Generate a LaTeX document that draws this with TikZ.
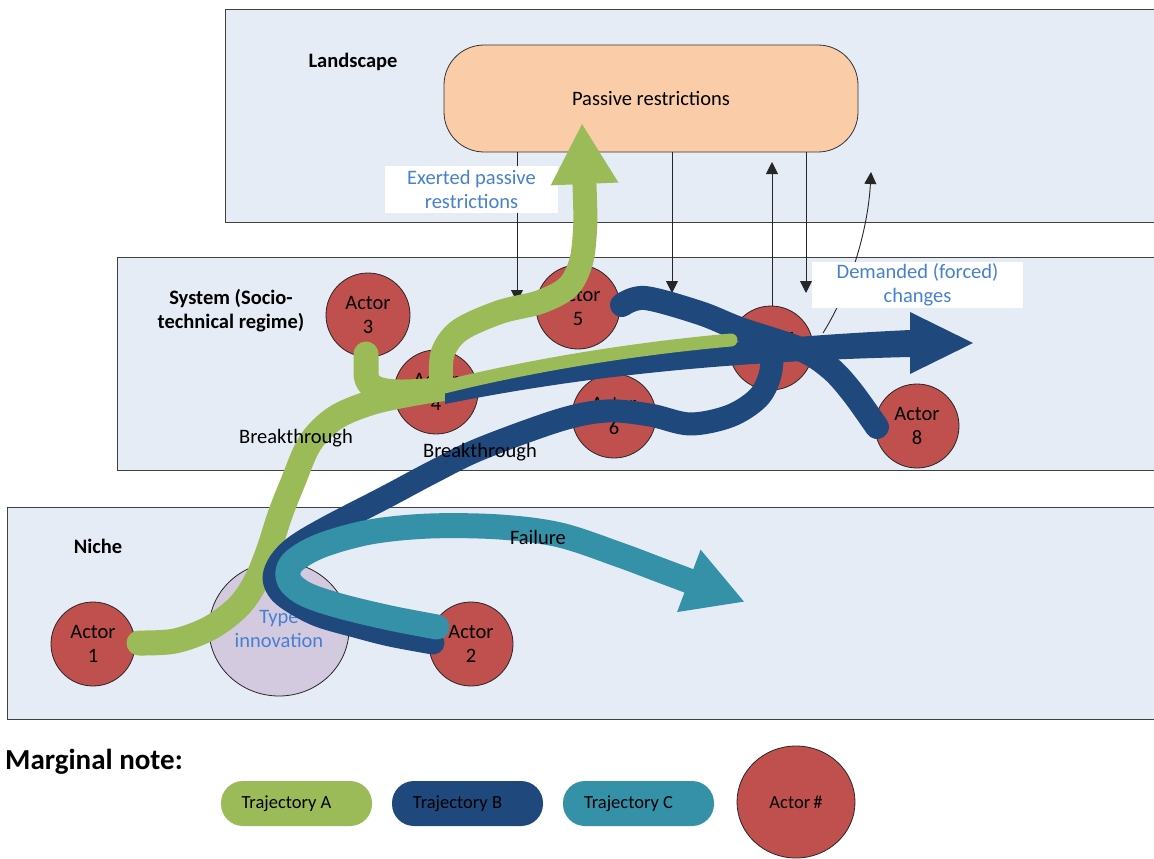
\documentclass[tikz,border=0pt]{standalone}
\usepackage{fontspec}
\setmainfont{Carlito}
\usetikzlibrary{arrows.meta,shapes.geometric}
\definecolor{layerfill}{RGB}{230,236,246}
\definecolor{actorred}{RGB}{192,80,77}
\definecolor{peach}{RGB}{250,204,168}
\definecolor{lav}{RGB}{211,202,223}
\definecolor{trA}{RGB}{155,187,89}
\definecolor{trB}{RGB}{31,73,125}
\definecolor{trC}{RGB}{53,145,168}
\definecolor{bluetext}{RGB}{70,128,210}
\newcommand\fszA{\fontsize{20.5}{24}\selectfont}
\newcommand\fszL{\fontsize{18.5}{22}\selectfont}
\newcommand\fszM{\fontsize{29}{34}\selectfont}
\begin{document}
\begin{tikzpicture}[x=1pt,y=-1pt,
  layerbox/.style={draw=black!75, line width=1.2pt, fill=layerfill, anchor=north west, inner sep=0pt},
  layerlbl/.style={font=\fszA\bfseries, align=center, inner sep=0pt},
  actor/.style={circle, draw=black!85, line width=0.8pt, fill=actorred, minimum size=84pt, inner sep=0pt, align=center, font=\fszA},
  thinarr/.style={draw=black!85, line width=0.9pt, -{Triangle[length=12pt,width=12pt]}},
  lblbox/.style={fill=white, text=bluetext, align=center, font=\fszA, inner sep=0pt},
  trj/.style={line width=#1, line cap=round, line join=round},
  plain/.style={font=\fszA, inner sep=0pt},
  legbox/.style={rounded corners=22pt, minimum width=151pt, minimum height=45pt, inner sep=0pt, font=\fszL}]
\useasboundingbox (0,0) rectangle (1154,859);
% layers
\begin{scope}
\clip (0,0) rectangle (1154,859);
\node[layerbox, minimum width=950pt, minimum height=213pt] (land) at (225,9) {};
\node[layerbox, minimum width=1060pt, minimum height=213pt] (sys) at (117,257) {};
\node[layerbox, minimum width=1170pt, minimum height=212pt] (niche) at (7,507) {};
\end{scope}
\node[layerlbl] (landlbl) at (353,62) {Landscape};
\node[layerlbl] (syslbl) at (231,311) {System (Socio-\\technical regime)};
\node[layerlbl] (nichelbl) at (98,546) {Niche};
% passive restrictions
\node[draw=black!80, line width=0.8pt, fill=peach, rounded corners=40pt, minimum width=414pt, minimum height=107pt, font=\fszA] (pr) at (651,98.5) {Passive restrictions};
% actors
\node[actor] (a1) at (93,644) {Actor\\1};
\node[actor] (a2) at (471,644) {Actor\\2};
\node[actor] (a3) at (368,315) {Actor\\3};
\node[actor] (a4) at (436,392) {Actor\\4};
\node[actor] (a5) at (578,307) {Actor\\5};
\node[actor] (a6) at (614,416) {Actor\\6};
\node[actor] (a7) at (771,348) {Actor\\7};
\node[actor] (a8) at (917,426) {Actor\\8};
\node[ellipse, draw=black!85, line width=0.8pt, fill=lav, minimum width=140pt, minimum height=134pt, inner sep=0pt, text=bluetext, align=center, font=\fszA] (ti) at (279,629) {Type\\innovation};
% thin arrows
\coordinate (d1) at (517,302);
\coordinate (d2) at (672,293);
\coordinate (d3) at (806,293);
\coordinate (u1) at (772,162);
\coordinate (c0) at (823,333);
\coordinate (c1) at (871,172);
\draw[thinarr] (pr.south -| d1) -- (d1);
\draw[thinarr] (pr.south -| d2) -- (d2);
\draw[thinarr] (pr.south -| d3) -- (d3);
\draw[thinarr] (a7.north -| u1) -- (u1);
\draw[thinarr] (c0) .. controls (850,290) and (868,230) .. (c1);
% label boxes
\node[lblbox, minimum width=173pt, minimum height=47pt] (ex) at (471.5,189.5) {Exerted passive\\restrictions};
\node[lblbox, minimum width=211pt, minimum height=46pt] (dm) at (917.5,285) {Demanded (forced)\\changes};
% trajectory A, lower part
\draw[trj=25pt, draw=trA] plot[smooth, tension=0.55] coordinates {(139,643) (175,641) (210,628) (238,607) (255,583) (268,552) (280,515) (293,482) (310,443) (335,418) (370,403) (410,394) (447,388)};
% trajectory B, lower strand
\draw[trj=23pt, draw=trB] plot[smooth, tension=0.55] coordinates {(433,643) (390,635) (355,626) (320,616) (296,604) (280,592) (274,578) (280,562) (296,546) (328,527) (386,497) (433,472) (480,449) (560,420) (607,411) (650,415) (690,424) (730,416) (758,398) (770,375) (773,345)};
% trajectory C
\draw[trj=25pt, draw=trC, -{Triangle[length=60pt,width=62pt]}] plot[smooth, tension=0.55] coordinates {(437,627) (390,618) (340,606) (305,594) (289,580) (292,563) (320,546) (370,532) (430,526) (500,527) (560,535) (620,555) (660,570) (745,602)};
% trajectory B, main arrow
\fill[trB] (445,387) .. controls (560,362) and (700,340) .. (910,330) -- (910,312) -- (973,343) -- (910,374) -- (910,357) .. controls (700,362) and (560,381) .. (445,404) -- cycle;
% trajectory B, actor 5 to actor 8
\draw[trj=24pt, draw=trB] plot[smooth, tension=0.55] coordinates {(622,305) (645,298) (700,313) (740,329) (800,349) (830,368) (852,392) (877,427)};
% trajectory A, branches
\draw[trj=25pt, draw=trA] (366,354) -- (366,373) .. controls (366,391) and (385,394) .. (425,391);
\draw[trj=24pt, draw=trA, -{Triangle[length=61pt,width=63pt]}] plot[smooth, tension=0.55] coordinates {(441,378) (443,352) (460,330) (500,312) (540,302) (568,287) (581,262) (585,230) (585,200) (582,123)};
\draw[trj=13pt, draw=trA] (440,388) .. controls (520,368) and (620,350) .. (731,340);
% free labels
\node[plain] (bt1) at (296,438) {Breakthrough};
\node[plain] (bt2) at (480,452) {Breakthrough};
\node[plain] (fail) at (538,537) {Failure};
% legend
\node[font=\fszM\bfseries, anchor=west, inner sep=0pt] (mn) at (5,762) {Marginal note:};
\node[legbox, fill=trA] (lA) at (296.5,803.5) {Trajectory A\kern20pt};
\node[legbox, fill=trB] (lB) at (467.5,803.5) {Trajectory B\kern20pt};
\node[legbox, fill=trC] (lC) at (638.5,803.5) {Trajectory C\kern20pt};
\node[ellipse, draw=black!85, line width=0.8pt, fill=actorred, minimum width=118pt, minimum height=112pt, inner sep=0pt, font=\fszL] (lact) at (796,802) {Actor\,\#};
\end{tikzpicture}
\end{document}
